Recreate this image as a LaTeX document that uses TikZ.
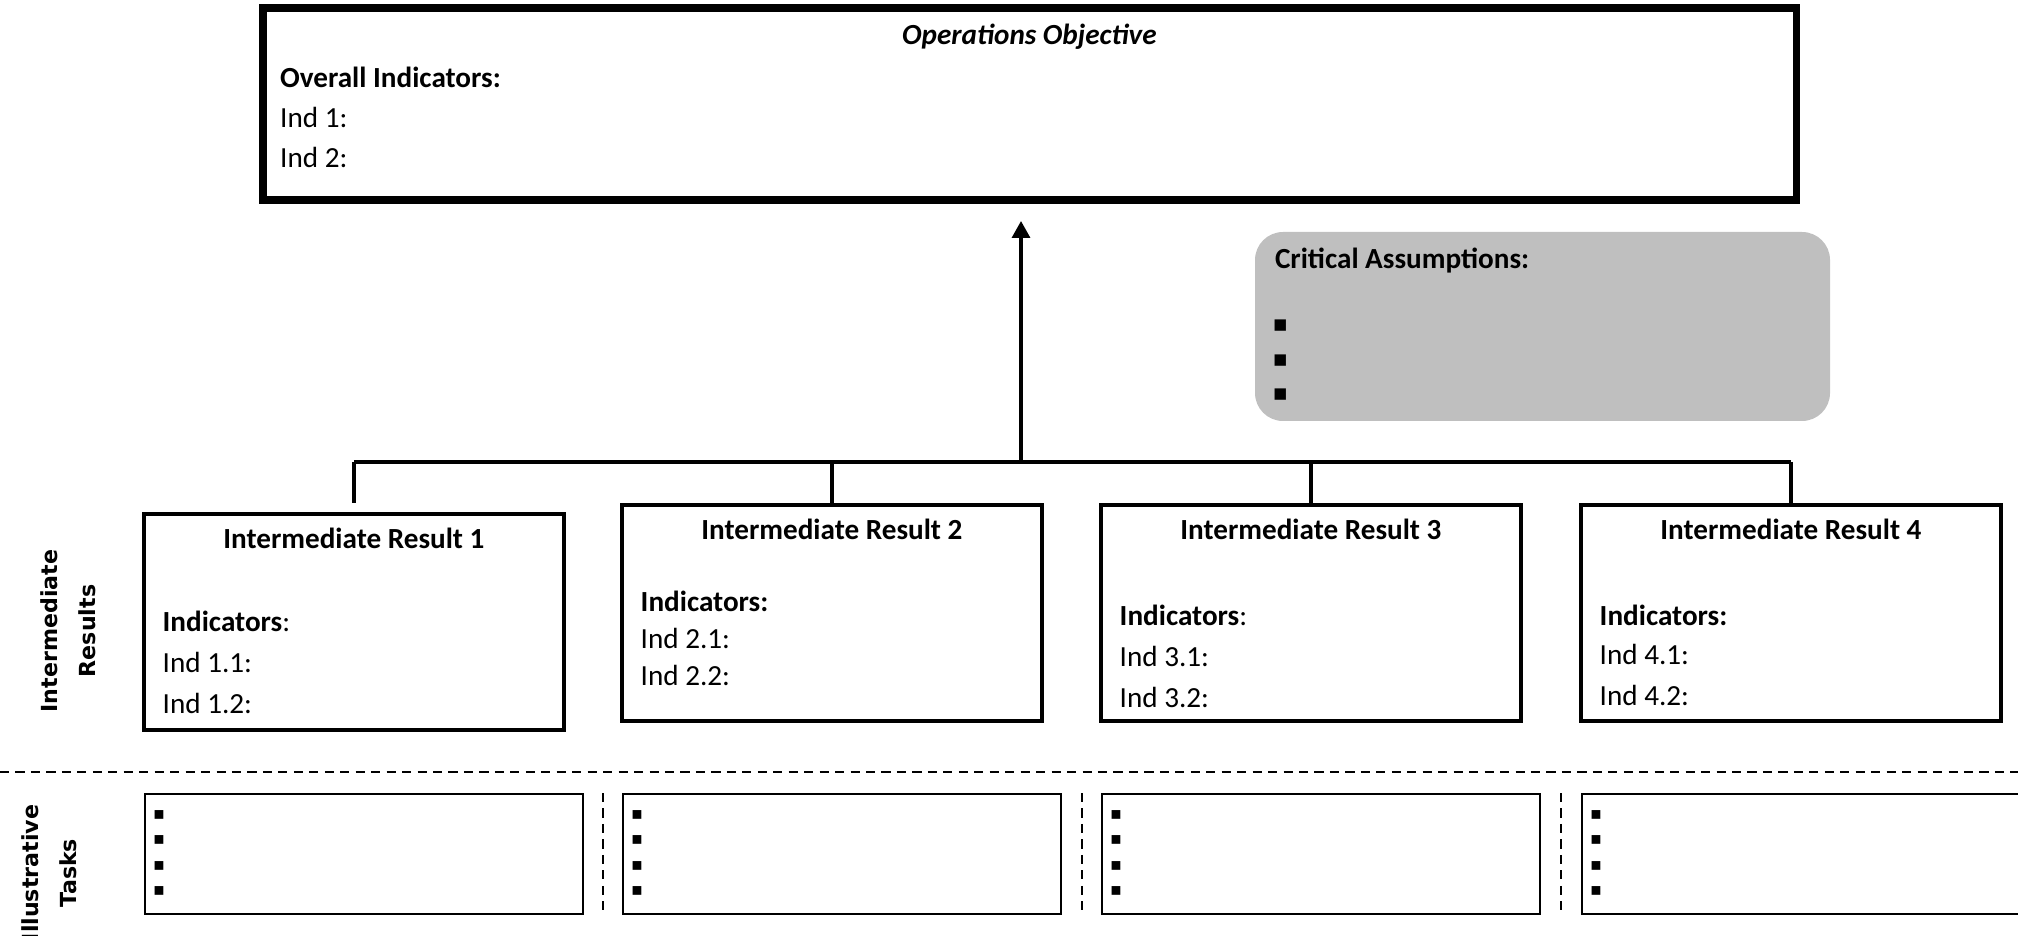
\documentclass[tikz,border=0pt]{standalone}
\usepackage{fontspec}
\setmainfont{Carlito}
\newfontfamily\sidefont{DejaVu Sans}
\newfontfamily\bulfont{DejaVu Sans}
\usetikzlibrary{positioning,arrows.meta,calc}
\definecolor{cAssume}{RGB}{191,191,191}
\tikzset{
  objbox/.style  = {draw=black, line width=2pt, minimum width=15.33cm,
                    minimum height=1.92cm, inner sep=0pt},
  irbox/.style   = {draw=black, line width=1.1pt, minimum width=4.20cm,
                    minimum height=2.16cm, inner sep=0pt},
  taskbox/.style = {draw=black, line width=0.6pt, minimum width=4.38cm,
                    minimum height=1.20cm, inner sep=0pt},
  cabox/.style   = {fill=cAssume, rounded corners=2.8mm, minimum width=5.75cm,
                    minimum height=1.89cm, inner sep=0pt},
  txt/.style     = {font=\fontsize{8.3}{10}\selectfont, inner sep=0pt},
  hdr/.style     = {font=\fontsize{8.3}{10}\selectfont\bfseries, inner sep=0pt},
  side/.style    = {font=\fontsize{6.3}{10.8}\sidefont\bfseries, align=center,
                    rotate=90, inner sep=0pt},
  bul/.style     = {font=\fontsize{5}{6}\bulfont, inner sep=0pt},
  link/.style    = {black, line width=0.95pt},
  flow/.style    = {link, -{Triangle[length=1.7mm, width=1.8mm]}},
  sep/.style     = {black, line width=0.6pt, dash pattern=on 2.6pt off 1.8pt},
}
\newcommand{\irblock}[6]{%
  \begin{scope}[shift={(#1,0)}]
    %% ---------------- intermediate result box ---------------------------
    \node[irbox, anchor=north west] (ir#3) at (0,#2) {};
    \node[hdr, anchor=base] (irh#3) at ($(ir#3.north)+(0,-0.37)$)
         {Intermediate Result #3};
    \node[txt, anchor=base west] (irk#3) at ($(ir#3.north west)+(0.20,#5)$) {#4};
    \node[txt, below=#6 of irk#3.base west, anchor=base west] (ira#3)
         {Ind #3.1:};
    \node[txt, below=#6 of ira#3.base west, anchor=base west] (irb#3)
         {Ind #3.2:};

    %% ---------------- illustrative task box -----------------------------
    \node[taskbox, anchor=north west] (tk#3) at (0.02,-7.93) {};
    \node[bul] (tb#3a) at ($(tk#3.north west)+(0.15,-0.22)$) {▪};
    \node[bul, below=2.55mm of tb#3a.center, anchor=center] (tb#3b) {▪};
    \node[bul, below=2.55mm of tb#3b.center, anchor=center] (tb#3c) {▪};
    \node[bul, below=2.55mm of tb#3c.center, anchor=center] (tb#3d) {▪};
  \end{scope}}

\begin{document}
\begin{tikzpicture}
  \useasboundingbox (0,0) rectangle (20.18,-9.36);

  %% ---------------- operations objective --------------------------------
  \node[objbox] (obj) at (10.295,-1.04) {};
  \node[hdr, font=\fontsize{8.3}{10}\selectfont\bfseries\itshape, anchor=base]
       (objt) at ($(obj.north)+(0,-0.40)$) {Operations Objective};
  \node[hdr, anchor=base west] (ovi) at ($(obj.north west)+(0.20,-0.83)$)
       {Overall Indicators:};
  \node[txt, below=4.0mm of ovi.base west, anchor=base west] (ov1) {Ind 1:};
  \node[txt, below=4.0mm of ov1.base west, anchor=base west] (ov2) {Ind 2:};

  %% ---------------- critical assumptions --------------------------------
  \node[cabox] (ca) at (15.425,-3.265) {};
  \node[hdr, anchor=base west] (cat) at ($(ca.north west)+(0.20,-0.37)$)
       {Critical Assumptions:};
  \node[bul, font=\fontsize{6.5}{8}\bulfont] (ca1) at ($(ca.north west)+(0.26,-0.94)$) {▪};
  \node[bul, font=\fontsize{6.5}{8}\bulfont, below=3.5mm of ca1.center, anchor=center] (ca2) {▪};
  \node[bul, font=\fontsize{6.5}{8}\bulfont, below=3.4mm of ca2.center, anchor=center] (ca3) {▪};

  %% ---------------- the four results and their tasks --------------------
  \irblock{1.42}{-5.12}{1}{\textbf{Indicators}:}{-1.20}{4.1mm}
  \irblock{6.20}{-5.03}{2}{\textbf{Indicators:}}{-1.09}{3.7mm}
  \irblock{10.99}{-5.03}{3}{\textbf{Indicators}:}{-1.22}{4.1mm}
  \irblock{15.79}{-5.03}{4}{\textbf{Indicators:}}{-1.22}{4.0mm}

  %% ---------------- tree of connectors ----------------------------------
  \coordinate (bus) at (10.21,-4.62);
  \coordinate (tip) at (10.21,-2.21);
  \draw[link] (ir1.north |- bus) -- (ir4.north |- bus);
  \draw[link] (ir1.north |- bus) -- (ir1.north |- ir2.north);
  \draw[link] (ir2.north |- bus) -- (ir2.north);
  \draw[link] (ir3.north |- bus) -- (ir3.north);
  \draw[link] (ir4.north |- bus) -- (ir4.north);
  \draw[flow] (bus) -- (tip);

  %% ---------------- row separators --------------------------------------
  \coordinate (rulew) at (0,-7.72);
  \coordinate (rulee) at (20.18,-7.72);
  \draw[sep] (rulew) -- (rulee);
  \draw[sep] ($(tk1.north east)!0.5!(tk2.north west)$ |- rulew)
          -- ($(tk1.south east)!0.5!(tk2.south west)$);
  \draw[sep] ($(tk2.north east)!0.5!(tk3.north west)$ |- rulew)
          -- ($(tk2.south east)!0.5!(tk3.south west)$);
  \draw[sep] ($(tk3.north east)!0.5!(tk4.north west)$ |- rulew)
          -- ($(tk3.south east)!0.5!(tk4.south west)$);

  %% ---------------- row labels ------------------------------------------
  \node[side] (lblir) at (0.68,-6.31) {Intermediate\\Results};
  \node[side] (lbltk) at (0.49,-8.73) {Illustrative\\Tasks};
\end{tikzpicture}
\end{document}
